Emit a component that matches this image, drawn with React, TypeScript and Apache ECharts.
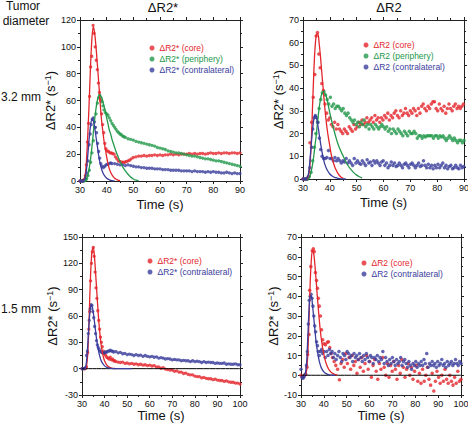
import React, { useEffect, useRef } from "react";
import * as echarts from "echarts";

const RED = "#e3262c";
const GREEN = "#22984a";
const BLUE = "#3a3d9b";
const FONT = "Liberation Sans, Arial, sans-serif";

// ---------- Top-left: ΔR2* (3.2 mm) ----------
const tlCore = [[30,0],[30.5,0],[31,0],[31.5,1],[32,4],[32.4,12],[32.8,29],[33.2,43],[33.6,63],[34,85],[34.4,93],[34.9,116],[35.3,110],[35.7,100],[36.1,90],[36.5,83],[36.9,73],[37.3,66],[37.7,60],[38.1,50],[38.5,42],[38.9,36],[39.3,28],[39.7,24],[40.2,22.5],[40.7,22],[41.2,21],[41.7,21],[42.2,20.5],[42.8,20],[43.3,18],[43.8,16.5],[44.4,15],[45,14.5],[45.6,14],[46.2,14],[46.8,14],[47.4,14.5],[48,15],[48.6,15.5],[49.2,16.5],[50,17.5],[51,18],[52,18.5],[53,18.5],[54,19],[55,18.5],[56,19],[57,19],[58,19.5],[59,19],[60,19.5],[61,19],[62,19.5],[63,19.5],[64,20],[65,19.5],[66,20],[67,19.5],[68,20],[69,20],[70,20],[71,20.5],[72,20],[73,20.5],[74,20],[75,20.5],[76,20.5],[77,20],[78,20.5],[79,21],[80,20.5],[81,20.5],[82,21],[83,20.5],[84,21],[85,21],[86,20.5],[87,21],[88,21],[89,20.5],[90,21]];
const tlPeriphery = [[31,0],[31.5,0],[32,0.5],[32.5,1.5],[33,4],[33.5,8],[34,14],[34.5,21],[35,30],[35.5,40],[36,50],[36.5,58],[37,62],[37.4,64],[37.8,62],[38.2,59],[38.6,56],[39,53],[39.5,51],[40,50],[40.5,49],[41,47],[41.5,45],[42,43],[42.5,41.5],[43,40],[43.5,38.5],[44,37],[44.5,36],[45,35],[45.5,34.5],[46,33.5],[46.5,33],[47,32.5],[48,31.5],[49,31],[50,30.5],[51,29.5],[52,29],[53,28.5],[54,28],[55,27.5],[56,27],[57,26.5],[58,26],[59,25],[60,24.5],[61,24],[62,23.5],[63,22.5],[64,22],[65,21.5],[66,21],[67,21],[68,20.5],[69,20],[70,19.5],[71,19],[72,18.5],[73,18.5],[74,18],[75,17.5],[76,17],[77,16.5],[78,16.5],[79,16],[80,15.5],[81,15],[82,15],[83,14.5],[84,14],[85,13.5],[86,13],[87,12.5],[88,12],[89,11.5],[90,11]];
const tlContra = [[30,0],[30.5,0],[31,0],[31.5,0.5],[32,2],[32.5,6],[33,15],[33.4,27],[33.8,35],[34.2,42],[34.6,46],[35,47],[35.4,44],[35.8,40],[36.2,36],[36.6,28],[37,22],[37.4,17],[37.8,13],[38.3,11],[38.8,10],[39.3,11],[39.8,12],[40.3,12.5],[41,13],[41.5,13.5],[42,13],[43,13],[44,12.5],[45,12],[46,12],[47,11.5],[48,12],[49,11.5],[50,11],[51,10.5],[52,10.5],[53,10],[54,10],[55,9.5],[56,9.5],[57,9.5],[58,9],[59,9],[60,9],[61,8.5],[62,8.5],[63,8.5],[64,8],[65,8],[66,8],[67,8],[68,7.5],[69,7.5],[70,7.5],[71,7.5],[72,7],[73,7.5],[74,7],[75,7],[76,7],[77,6.5],[78,7],[79,6.5],[80,7],[81,6.5],[82,6.5],[83,6],[84,6],[85,6.5],[86,6],[87,5.5],[88,6],[89,5.5],[90,5.5]];
const tlCoreFit = [[31,0],[31.5,1],[32,5],[32.5,18],[33,38],[33.5,62],[34,88],[34.5,107],[35,115],[35.5,110],[36,100],[36.5,87],[37,74],[37.5,60],[38,47],[38.5,38],[39,30],[39.5,24],[40,18],[40.5,13],[41,9],[41.5,6.5],[42,4.5],[43,2],[44,0.8],[45,0.2]];
const tlPeripheryFit = [[31.5,0],[32,0.5],[32.5,2],[33,5],[33.5,10],[34,17],[34.5,26],[35,36],[35.5,46],[36,54],[36.5,60],[37,63.5],[37.5,64],[38,62.5],[38.5,60],[39,56],[39.5,52],[40,47],[40.5,42.5],[41,38],[41.5,35],[42,31],[42.5,28],[43,25],[43.5,22],[44,19.5],[44.5,17],[45,14.5],[46,10.5],[47,7.5],[48,5],[49,3],[50,1.5],[51,0.6],[52,0.2]];
const tlContraFit = [[31,0],[31.5,0.5],[32,3],[32.5,10],[33,21],[33.5,33],[34,42],[34.5,46],[35,45],[35.5,40],[36,33],[36.5,26],[37,19],[37.5,13.5],[38,9.5],[38.5,6.5],[39,4.5],[40,2],[41,0.9],[42,0.3],[43,0.1]];

// ---------- Top-right: ΔR2 (3.2 mm) ----------
const trCore = [[30,0],[30.7,0],[31.4,0],[32,1],[32.6,16],[33.2,25],[33.8,36],[34.4,46],[34.9,63],[35.4,64.5],[35.9,55],[36.4,49],[37,42],[37.6,39],[38.2,33],[38.8,29],[39.4,26],[40,27],[40.6,24],[41.2,23],[41.8,25],[42.4,22],[43,24],[43.6,22],[44.2,21],[44.8,20],[45.4,22],[46,21],[46.6,20],[47.2,23],[47.8,22],[48.4,21],[49,24],[49.6,22],[50.2,23],[50.8,25],[51.4,24],[52,26],[52.6,24],[53.2,25],[53.8,27],[54.4,25],[55,26],[55.6,27],[56.2,25],[56.8,28],[57.4,26],[58,27],[58.6,25],[59.2,27],[59.8,26],[60.4,28],[61,27],[61.6,29],[62.2,26],[62.8,28],[63.4,27],[64,29],[64.6,30],[65.2,28],[65.8,27],[66.4,30],[67,28],[67.6,29],[68.2,31],[68.8,29],[69.4,28],[70,30],[70.6,29],[71.2,31],[71.8,30],[72.4,28],[73,31],[73.6,29],[74.2,32],[74.8,33],[75.4,31],[76,30],[76.6,32],[77.2,31],[77.8,33],[78.4,34],[79,34],[79.6,31],[80.2,30],[80.8,33],[81.4,31],[82,30],[82.6,32],[83.2,29],[83.8,31],[84.4,33],[85,31],[85.6,30],[86.2,32],[86.8,33],[87.4,31],[88,32],[88.6,31],[89.2,32],[89.8,33]];
const trPeriphery = [[31,0],[31.7,0],[32.3,1],[33,3],[33.6,8],[34.2,14],[34.8,20],[35.4,25],[36,31],[36.6,35],[37.2,38],[37.8,38.5],[38.4,37],[39,35],[39.6,33],[40.2,36],[40.8,32],[41.4,33],[42,31],[42.6,32],[43.2,32],[43.8,31],[44.4,30],[45,31],[45.6,29],[46.2,28],[46.8,29],[47.4,27],[48,26],[48.6,25],[49.2,26],[49.8,24],[50.4,25],[51,23],[51.6,25],[52.2,24],[52.8,26],[53.4,23],[54,24],[54.6,22],[55.2,24],[55.8,23],[56.4,22],[57,24],[57.6,23],[58.2,22],[58.8,23],[59.4,24],[60,23],[60.6,22],[61.2,23],[61.8,21],[62.4,22],[63,20],[63.6,22],[64.2,21],[64.8,20],[65.4,22],[66,21],[66.6,20],[67.2,19],[67.8,21],[68.4,20],[69,19],[69.6,21],[70.2,20],[70.8,20],[71.4,21],[72,20],[72.6,18],[73.2,19],[73.8,19],[74.4,18],[75,19],[75.6,18.5],[76.2,19],[76.8,19],[77.4,19],[78,19],[78.6,18],[79.2,19],[79.8,19],[80.4,18],[81,19],[81.6,18.5],[82.2,19],[82.8,18],[83.4,17],[84,18],[84.6,19],[85.2,18],[85.8,17],[86.4,18],[87,17],[87.6,16],[88.2,17],[88.8,17],[89.4,16],[90,17]];
const trContra = [[30,0],[30.7,0],[31.3,0],[32,1],[32.6,5],[33.2,14],[33.6,22],[34.1,27],[34.6,28],[35.1,27],[35.6,25],[36.1,18],[36.6,13],[37.1,10],[37.7,9],[38.3,9],[38.9,9.5],[39.5,12.5],[40.1,9],[40.7,9],[41.3,8],[41.9,9.5],[42.5,8],[43.1,9],[43.7,8],[44.3,7],[44.9,8],[45.5,7.5],[46.1,9],[46.7,7],[47.3,8],[47.9,7],[48.5,6],[49.1,9],[49.7,7],[50.3,8],[50.9,7],[51.5,6.5],[52.1,8],[52.7,7],[53.3,6],[53.9,8.5],[54.5,7],[55.1,7.5],[55.7,6],[56.3,8],[56.9,7],[57.5,8],[58.1,7],[58.7,6],[59.3,7.5],[59.9,8],[60.5,6],[61.1,7],[61.7,5],[62.3,6],[62.9,7.5],[63.5,6],[64.1,7],[64.7,5.5],[65.3,6],[65.9,7],[66.5,6],[67.1,5],[67.7,6.5],[68.3,7],[68.9,6],[69.5,5],[70.1,6.5],[70.7,7],[71.3,6],[71.9,5],[72.5,6],[73.1,7],[73.7,5.5],[74.3,6],[74.9,8],[75.5,6],[76.1,5],[76.7,6.5],[77.3,5],[77.9,6],[78.5,4.5],[79.1,6],[79.7,5],[80.3,6.5],[80.9,5],[81.5,6],[82.1,7],[82.7,5],[83.3,6],[83.9,4.5],[84.5,5.5],[85.1,6],[85.7,4.5],[86.3,5],[86.9,6],[87.5,5],[88.1,4.5],[88.7,6],[89.3,5],[89.9,5.5]];
const trCoreFit = [[31.5,0],[32,1],[32.5,5],[33,14],[33.5,30],[34,46],[34.5,58],[35,63.5],[35.5,64],[36,60],[36.5,54],[37,47],[37.5,40],[38,33],[38.5,27],[39,22],[39.5,18],[40,14.5],[40.5,11],[41,8.5],[41.5,6.5],[42,4.8],[43,2.5],[44,1],[45,0.3]];
const trPeripheryFit = [[32,0],[32.5,1],[33,3],[33.5,6],[34,10],[34.5,15],[35,20],[35.5,26],[36,31],[36.5,35],[37,37.5],[37.5,38.5],[38,38],[38.5,37],[39,35],[39.5,32],[40,29],[40.5,26.5],[41,24],[42,19.5],[43,15.5],[44,12.5],[45,10],[46,7.5],[47,5.5],[48,4],[49,2.7],[50,1.7],[51,1],[52,0.5]];
const trContraFit = [[31,0],[31.5,0.5],[32,2],[32.5,7],[33,14],[33.5,21],[34,26],[34.5,28],[35,27],[35.5,24],[36,20],[36.5,16],[37,12.5],[37.5,9.5],[38,7],[38.5,5.3],[39,4],[40,2.2],[41,1.2],[42,0.6],[43,0.3],[44,0.1],[46,0]];

// ---------- Bottom-left: ΔR2* (1.5 mm) ----------
const blCore = [[30,0],[30.5,0],[31,0],[31.5,0],[32,2],[32.5,18],[33,45],[33.4,65],[33.8,100],[34.2,120],[34.6,133],[35,138],[35.4,128],[35.8,110],[36.2,92],[36.6,80],[37,66],[37.4,55],[37.8,45],[38.2,36],[38.6,30],[39,25],[39.5,20],[40,17],[40.5,15],[41,13],[41.5,12],[42,11],[42.5,13],[43,10],[43.5,11],[44,9],[44.5,9],[45,8],[46,7.5],[47,7],[48,7.5],[49,6],[50,6.5],[51,5.5],[52,6],[53,5],[54,5.5],[55,4.5],[56,5],[57,4],[58,4.5],[59,3.5],[60,4],[61,3],[62,3.5],[63,2],[64,2],[65,0.5],[66,1],[67,-0.5],[68,-1],[69,-1.5],[70,-1.5],[71,-3],[72,-2.5],[73,-4],[74,-4],[75,-5.5],[76,-5],[77,-6.5],[78,-7],[79,-7],[80,-8.5],[81,-9],[82,-9],[83,-10.5],[84,-10],[85,-11],[86,-11.5],[87,-11.5],[88,-12.5],[89,-12],[90,-13],[91,-13.5],[92,-13.5],[93,-14.5],[94,-14],[95,-15],[96,-15.5],[97,-15.5],[98,-16.5],[99,-16.5],[100,-17.5]];
const blContra = [[30,0],[30.5,0],[31,0],[31.5,1],[32,15],[32.4,20],[32.8,40],[33.2,55],[33.6,68],[34,73],[34.4,72],[34.8,65],[35.2,58],[35.6,48],[36,40],[36.4,32],[36.8,27],[37.2,24],[37.6,22],[38,20],[38.5,19],[39,18],[39.5,18],[40,18],[40.5,19],[41,19],[41.5,20],[42,20],[42.5,21],[43,20],[43.5,20],[44,19],[45,19.5],[46,18],[47,18.5],[48,17],[49,17.5],[50,16],[51,16.5],[52,16],[53,15],[54,16],[55,15],[56,15.5],[57,14],[58,15],[59,14],[60,13.5],[61,14],[62,13],[63,13.5],[64,12],[65,12.5],[66,12],[67,11],[68,11.5],[69,11],[70,10],[71,10.5],[72,10],[73,10],[74,9],[75,9.5],[76,9],[77,9],[78,8],[79,9],[80,8],[81,8.5],[82,8],[83,7],[84,8],[85,7],[86,7.5],[87,7],[88,7],[89,6],[90,6.5],[91,6],[92,6],[93,6.5],[94,5],[95,5.5],[96,5],[97,5],[98,5.5],[99,4.5],[100,4.5]];
const blCoreFit = [[31.5,0],[32,3],[32.5,15],[33,45],[33.5,85],[34,118],[34.5,135],[35,138],[35.5,128],[36,110],[36.5,90],[37,70],[37.5,52],[38,38],[38.5,27],[39,19],[39.5,13],[40,9],[41,4],[42,1.8],[43,0.7],[44,0.3],[45,0.1]];
const blContraFit = [[31,0],[31.5,1],[32,8],[32.5,25],[33,47],[33.5,64],[34,72],[34.5,71],[35,64],[35.5,54],[36,43],[36.5,33],[37,25],[37.5,18],[38,13],[38.5,9],[39,6.5],[40,3.2],[41,1.5],[42,0.7],[43,0.3],[44,0.1],[46,0],[52,0]];

// ---------- Bottom-right: ΔR2 (1.5 mm) ----------
const brCore = [[30,0],[30.7,-1],[31.4,0],[32,0.5],[32.6,4],[32.9,10.5],[33.5,20.6],[33.8,43],[34.3,55],[34.9,63],[35.4,64],[35.8,62.6],[36.3,52],[36.8,48],[37.2,44],[37.6,39],[38,35],[38.5,30],[39,23],[39.5,18],[40,16],[40.7,15.5],[41.5,16.7],[42,17],[42.6,14],[43.2,11],[43.8,9],[44.5,7],[45.2,5],[46,3],[46.8,-2.3],[47.5,6],[48.2,8],[48.9,4],[49.6,11],[50.3,6],[51,9],[51.7,3],[52.4,10],[53.1,5],[53.8,7],[54.5,1],[55.2,8],[55.9,4],[56.6,9],[57.3,2],[58,6],[58.7,10],[59.4,3],[60.1,7],[60.8,-1],[61.5,5],[62.2,8],[62.9,2],[63.6,-2],[64.3,6],[65,3],[65.7,9],[66.4,4],[67.1,0],[67.8,6],[68.5,-1],[69.2,5],[69.9,2],[70.6,7],[71.3,3],[72,-2],[72.7,5],[73.4,1],[74.1,8],[74.8,4],[75.5,-1],[76.2,3],[76.9,6],[77.6,0],[78.3,4],[79,-2],[79.7,2],[80.4,5],[81.1,-3],[81.8,1],[82.5,-4],[83.2,3],[83.9,-3],[84.6,0],[85.3,4],[86,-2],[86.7,-5],[87.4,1],[88.1,-8],[88.8,-3],[89.5,2],[90.2,-1],[90.9,-4],[91.6,0],[92.3,-3],[93,3],[93.7,-2],[94.4,-4],[95.1,0],[95.8,-3],[96.5,-5],[97.2,-1],[97.9,-4],[98.6,2],[99.3,-3],[100,-2]];
const brContra = [[30,3],[30.4,-1],[30.8,-1.5],[31.2,-1],[31.6,0],[32,0.5],[32.4,5],[32.8,12],[33.2,26],[33.6,38],[34,40],[34.4,41],[34.8,39],[35.2,35],[35.6,30],[36,25],[36.4,22],[36.8,17],[37.2,15],[37.6,12],[38,10],[38.5,12],[39,13],[39.5,11],[40,12],[40.6,9],[41.2,12],[41.8,10],[42.4,13],[43,11],[43.6,12],[44.2,9],[44.8,11],[45.4,8],[46,10],[46.6,12],[47.2,9],[47.8,7],[48.4,11],[49,10],[49.6,8],[50.2,12],[50.8,11],[51.4,9],[52,10],[52.6,7],[53.2,11],[53.8,9],[54.4,10],[55,8],[55.6,11],[56.2,9],[56.8,7],[57.4,10],[58,8],[58.6,11],[59.2,9],[59.8,7],[60.4,10],[61,9],[61.6,6],[62.2,9],[62.8,8],[63.4,10],[64,7],[64.6,9],[65.2,8],[65.8,12],[66.4,6],[67,9],[67.6,7],[68.2,5],[68.8,8],[69.4,6],[70,9],[70.6,7],[71.2,5],[71.8,8],[72.4,6],[73,7],[73.6,9],[74.2,5],[74.8,7],[75.4,8],[76,6],[76.6,4],[77.2,7],[77.8,5],[78.4,3],[79,6],[79.6,5],[80.2,7],[80.8,4],[81.4,6],[82,5],[82.6,7],[83.2,5],[83.8,8],[84.4,6],[85,11],[85.6,4],[86.2,6],[86.8,5],[87.4,7],[88,5],[88.6,6],[89.2,4],[89.8,7],[90.4,5],[91,6],[91.6,8],[92.2,5],[92.8,6],[93.4,4],[94,7],[94.6,5],[95.2,6],[95.8,7],[96.4,5],[97,6],[97.6,8],[98.2,6],[98.8,5],[99.4,7],[100,6]];
const brCoreFit = [[32,0],[32.5,3],[33,11],[33.5,28],[34,46],[34.5,58],[35,63],[35.5,62],[36,57],[36.5,50],[37,42],[37.5,35],[38,28],[38.5,22],[39,17.5],[39.5,13.5],[40,10.5],[40.5,8],[41,6],[42,3.3],[43,1.7],[44,0.8],[45,0.3],[46,0.1]];
const brContraFit = [[31.5,0],[32,1.5],[32.5,7],[33,20],[33.5,33],[34,40],[34.5,40],[35,36],[35.5,30],[36,24],[36.5,18],[37,13.5],[37.5,10],[38,7],[38.5,5],[39,3.5],[40,1.7],[41,0.8],[42,0.3],[43,0.1],[45,0]];

const zeroLine1 = [[30,0],[100,0]];

// ---------- axis ranges ----------
const xRanges = [[30, 90, 10], [30, 90, 10], [30, 100, 10], [30, 100, 10]];
const yRanges = [[0, 120, 20], [0, 70, 10], [-30, 150, 30], [-10, 70, 10]];

const labels = {
  tl: ["ΔR2* (core)", "ΔR2* (periphery)", "ΔR2* (contralateral)"],
  tr: ["ΔR2 (core)", "ΔR2 (periphery)", "ΔR2 (contralateral)"],
  bl: ["ΔR2* (core)", "ΔR2* (contralateral)"],
  br: ["ΔR2 (core)", "ΔR2 (contralateral)"],
};

const grids = [
  { left: 80, top: 20, width: 160, height: 161 },
  { left: 303, top: 20, width: 161, height: 159 },
  { left: 82, top: 237, width: 158, height: 158 },
  { left: 301, top: 237, width: 160, height: 158 },
];
const yNameGaps = [20, 16, 13, 16];
const xNameGaps = [17, 17, 12, 12];

const AX = "#222";

function buildAxes() {
  const xAxis: any[] = [];
  const yAxis: any[] = [];
  grids.forEach((_, i) => {
    const [xmin, xmax, xint] = xRanges[i];
    const [ymin, ymax, yint] = yRanges[i];
    const common = {
      type: "value",
      gridIndex: i,
      splitLine: { show: false },
      axisLine: { show: true, onZero: false, lineStyle: { color: AX, width: 1 } },
      axisTick: { show: true, length: 3, lineStyle: { color: AX, width: 1 } },
      minorTick: { show: true, splitNumber: 2, length: 2, lineStyle: { color: AX, width: 1 } },
      minorSplitLine: { show: false },
    };
    xAxis.push({
      ...common, min: xmin, max: xmax, interval: xint, position: "bottom",
      axisLabel: { fontSize: 9, color: "#111", margin: 4, fontFamily: FONT },
      name: "Time (s)", nameLocation: "middle", nameGap: xNameGaps[i],
      nameTextStyle: { fontSize: 13, color: "#111", fontFamily: FONT, lineHeight: 13 },
    });
    xAxis.push({
      ...common, min: xmin, max: xmax, interval: xint, position: "top",
      axisLabel: { show: false },
    });
    yAxis.push({
      ...common, min: ymin, max: ymax, interval: yint, position: "left",
      axisLabel: { fontSize: 9, color: "#111", margin: 4, fontFamily: FONT },
      name: "ΔR2* (s{sup|−1})", nameLocation: "middle", nameGap: yNameGaps[i], nameRotate: 90,
      nameTextStyle: {
        fontSize: 13, color: "#111", fontFamily: FONT,
        rich: { sup: { fontSize: 9, color: "#111", fontFamily: FONT, verticalAlign: "top", padding: [0, 0, 6, 0] } },
      },
    });
    yAxis.push({
      ...common, min: ymin, max: ymax, interval: yint, position: "right",
      axisLabel: { show: false },
    });
  });
  return { xAxis, yAxis };
}

function scatter(name: string, data: number[][], color: string, i: number, size = 3.3) {
  return {
    type: "scatter", name, data, xAxisIndex: 2 * i, yAxisIndex: 2 * i,
    symbol: "circle", symbolSize: size, itemStyle: { color }, z: 2,
  };
}
function fit(name: string, data: number[][], color: string, i: number, width = 1.3) {
  return {
    type: "line", name, data, xAxisIndex: 2 * i, yAxisIndex: 2 * i,
    showSymbol: false, symbol: "none", smooth: 0.35, lineStyle: { color, width }, itemStyle: { color }, z: 3,
  };
}

function legendFor(names: string[], colors: string[], left: number, top: number) {
  return {
    left, top, orient: "vertical", icon: "circle", itemWidth: 5, itemHeight: 5, itemGap: 1,
    selectedMode: false,
    textStyle: { fontSize: 8.5, fontFamily: FONT, lineHeight: 10 },
    data: names.map((n, k) => ({ name: n, textStyle: { color: colors[k] } })),
  };
}

const headerStyle = { fontSize: 12, fontFamily: FONT, fill: "#111", align: "center", verticalAlign: "middle" };

export default function App() {
  const ref = useRef<HTMLDivElement>(null);
  useEffect(() => {
    if (!ref.current) return;
    const chart = echarts.init(ref.current, null, { renderer: "svg" });
    const { xAxis, yAxis } = buildAxes();
    const option: any = {
      animation: false,
      backgroundColor: "#fff",
      textStyle: { fontFamily: FONT },
      grid: grids.map((g) => ({ ...g, containLabel: false, outerBoundsMode: "none" })),
      xAxis,
      yAxis,
      legend: [
        legendFor(labels.tl, [RED, GREEN, BLUE], 144.5, 38),
        legendFor(labels.tr, [RED, GREEN, BLUE], 358.5, 35),
        legendFor(labels.bl, [RED, BLUE], 142.5, 251),
        legendFor(labels.br, [RED, BLUE], 356.5, 253),
      ],
      series: [
        scatter(labels.tl[0], tlCore, RED, 0),
        scatter(labels.tl[1], tlPeriphery, GREEN, 0),
        scatter(labels.tl[2], tlContra, BLUE, 0),
        fit("fit-tl-core", tlCoreFit, RED, 0),
        fit("fit-tl-periphery", tlPeripheryFit, GREEN, 0),
        fit("fit-tl-contra", tlContraFit, BLUE, 0),

        scatter(labels.tr[0], trCore, RED, 1, 3.5),
        scatter(labels.tr[1], trPeriphery, GREEN, 1, 3.5),
        scatter(labels.tr[2], trContra, BLUE, 1, 3.5),
        fit("fit-tr-core", trCoreFit, RED, 1),
        fit("fit-tr-periphery", trPeripheryFit, GREEN, 1),
        fit("fit-tr-contra", trContraFit, BLUE, 1),

        fit("zero-bl", zeroLine1, "#000", 2, 1),
        scatter(labels.bl[0], blCore, RED, 2),
        scatter(labels.bl[1], blContra, BLUE, 2),
        fit("fit-bl-core", blCoreFit, RED, 2),
        fit("fit-bl-contra", blContraFit, BLUE, 2),

        fit("zero-br", zeroLine1, "#000", 3, 1),
        scatter(labels.br[0], brCore, RED, 3, 3.5),
        scatter(labels.br[1], brContra, BLUE, 3, 3.5),
        fit("fit-br-core", brCoreFit, RED, 3),
        fit("fit-br-contra", brContraFit, BLUE, 3),
      ],
      graphic: [
        { type: "text", x: 23, y: 6, style: { ...headerStyle, text: "Tumor" } },
        { type: "text", x: 26, y: 21, style: { ...headerStyle, text: "diameter" } },
        { type: "text", x: 163, y: 7, style: { ...headerStyle, fontSize: 13, text: "ΔR2*" } },
        { type: "text", x: 389, y: 7, style: { ...headerStyle, fontSize: 13, text: "ΔR2" } },
        { type: "text", x: 21, y: 97, style: { ...headerStyle, text: "3.2 mm" } },
        { type: "text", x: 21, y: 309, style: { ...headerStyle, text: "1.5 mm" } },
      ],
    };
    chart.setOption(option);
    return () => chart.dispose();
  }, []);
  return (
    <div
      ref={ref}
      style={{ position: "absolute", left: 0, top: 0, width: 468, height: 425, background: "#fff" }}
    />
  );
}
